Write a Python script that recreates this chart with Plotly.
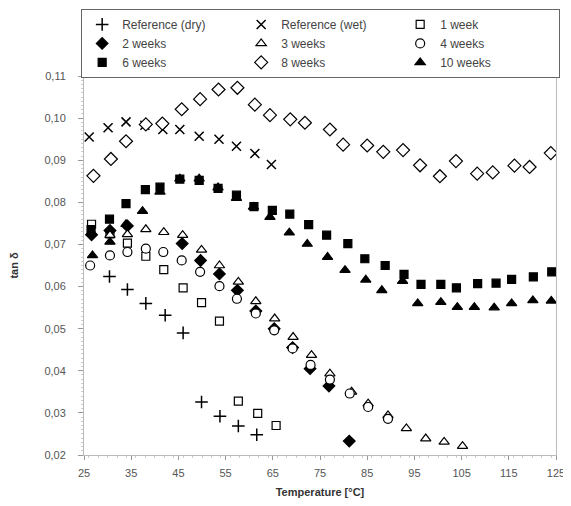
import plotly.graph_objects as go

# ---- data ----
dry_x = [30.4, 34.2, 38.1, 42.2, 46.0, 49.9, 53.8, 57.7, 61.6]
dry_y = [0.0624, 0.0593, 0.0560, 0.0532, 0.0490, 0.0326, 0.0292, 0.0269, 0.0248]

wet_x = [26.1, 30.1, 33.9, 37.9, 41.7, 45.3, 49.4, 53.6, 57.3, 61.2, 64.7]
wet_y = [0.0955, 0.0977, 0.0991, 0.0983, 0.0973, 0.0973, 0.0957, 0.0950, 0.0933, 0.0916, 0.0890]

w1_x = [26.6, 30.5, 34.2, 38.1, 41.9, 46.0, 49.9, 53.7, 57.7, 61.8, 65.7]
w1_y = [0.0748, 0.0725, 0.0703, 0.0672, 0.0640, 0.0597, 0.0562, 0.0518, 0.0328, 0.0299, 0.0270]

w2_x = [26.6, 30.5, 34.2, 45.8, 49.7, 53.7, 57.5, 61.4, 65.3, 69.2, 72.9, 76.9, 81.2]
w2_y = [0.0723, 0.0733, 0.0744, 0.0702, 0.0662, 0.0630, 0.0591, 0.0542, 0.0500, 0.0455, 0.0405, 0.0364, 0.0233]

w3_x = [30.5, 34.2, 38.1, 41.9, 45.9, 49.9, 53.7, 57.7, 61.4, 65.4, 69.3, 73.2, 77.1,
        81.7, 85.2, 89.4, 93.3, 97.4, 101.3, 105.2]
w3_y = [0.0722, 0.0724, 0.0736, 0.0729, 0.0722, 0.0687, 0.0650, 0.0611, 0.0565, 0.0524, 0.0480, 0.0437, 0.0393,
        0.0350, 0.0322, 0.0294, 0.0263, 0.0239, 0.0231, 0.0221]

w4_x = [26.3, 30.5, 34.2, 38.1, 41.8, 45.7, 49.6, 53.7, 57.4, 61.4, 65.3, 69.2, 73.0,
        77.1, 81.3, 85.2, 89.4]
w4_y = [0.0650, 0.0674, 0.0682, 0.0690, 0.0682, 0.0662, 0.0635, 0.0601, 0.0571, 0.0536, 0.0496, 0.0453, 0.0414,
        0.0379, 0.0346, 0.0314, 0.0286]

w6_x = [26.5, 30.4, 33.9, 38.0, 41.1, 45.3, 49.4, 53.4, 57.3, 61.0, 64.9, 68.6, 72.6,
        76.4, 80.9, 84.5, 88.8, 92.8, 96.4, 100.6, 103.9, 108.4, 112.3, 115.6, 120.2, 124.1]
w6_y = [0.0735, 0.0760, 0.0797, 0.0830, 0.0836, 0.0855, 0.0852, 0.0833, 0.0817, 0.0790, 0.0781, 0.0772, 0.0747,
        0.0722, 0.0702, 0.0666, 0.0650, 0.0629, 0.0605, 0.0605, 0.0597, 0.0607, 0.0608, 0.0617, 0.0623, 0.0635]

w8_x = [27.0, 30.7, 33.9, 38.1, 41.6, 45.7, 49.6, 53.5, 57.5, 61.2, 64.4, 68.7, 71.8,
        77.1, 79.9, 85.0, 88.4, 92.6, 96.2, 100.4, 103.8, 108.3, 111.6, 116.2, 119.4, 123.9]
w8_y = [0.0863, 0.0903, 0.0945, 0.0985, 0.0987, 0.1021, 0.1045, 0.1068, 0.1072, 0.1032, 0.1007, 0.0997, 0.0989,
        0.0973, 0.0937, 0.0935, 0.0920, 0.0924, 0.0888, 0.0862, 0.0898, 0.0868, 0.0871, 0.0887, 0.0884, 0.0917]

w10_x = [26.8, 30.5, 33.9, 37.4, 41.1, 45.3, 49.4, 53.4, 57.3, 60.9, 64.4, 68.5, 72.3,
         76.6, 80.3, 84.7, 88.1, 92.5, 95.7, 100.6, 104.1, 107.7, 111.9, 115.6, 120.1, 124.0]
w10_y = [0.0674, 0.0706, 0.0748, 0.0779, 0.0825, 0.0856, 0.0856, 0.0835, 0.0810, 0.0789, 0.0765, 0.0728, 0.0701,
         0.0670, 0.0639, 0.0616, 0.0591, 0.0613, 0.0560, 0.0563, 0.0551, 0.0551, 0.0550, 0.0560, 0.0567, 0.0566]

x_ticks = [25, 35, 45, 55, 65, 75, 85, 95, 105, 115, 125]
y_ticks = [0.02, 0.03, 0.04, 0.05, 0.06, 0.07, 0.08, 0.09, 0.10, 0.11]

series = [
    ("Reference (dry)", dry_x, dry_y, "cross-thin", "black", 9),
    ("Reference (wet)", wet_x, wet_y, "x-thin", "black", 9),
    ("1 week", w1_x, w1_y, "square", "white", 8),
    ("2 weeks", w2_x, w2_y, "diamond", "black", 9),
    ("3 weeks", w3_x, w3_y, "triangle-up", "white", 9),
    ("4 weeks", w4_x, w4_y, "circle", "white", 9),
    ("6 weeks", w6_x, w6_y, "square", "black", 8),
    ("8 weeks", w8_x, w8_y, "diamond", "white", 10),
    ("10 weeks", w10_x, w10_y, "triangle-up", "black", 9),
]

fig = go.Figure()
for name, xs, ys, sym, fill, size in series:
    lw = 1.5 if "thin" in sym else 1.2
    fig.add_trace(go.Scatter(
        x=xs, y=ys, mode="markers", name=name,
        marker=dict(symbol=sym, size=size, color=fill,
                    line=dict(color="black", width=lw)),
    ))

fig.update_layout(
    width=563, height=490,
    margin=dict(l=76, r=15, t=68, b=43, autoexpand=False),
    paper_bgcolor="white", plot_bgcolor="white",
    separators=",.",
    font=dict(family="Liberation Sans, Arial, sans-serif", size=11, color="#333"),
    showlegend=True,
    legend=dict(
        orientation="h", x=-0.006, xanchor="left", y=1.177, yanchor="top",
        entrywidth=114, entrywidthmode="pixels",
        bordercolor="#666", borderwidth=1, bgcolor="white",
        font=dict(size=12, color="#444"),
        itemsizing="trace", tracegroupgap=0,
    ),
    xaxis=dict(
        range=[25, 125], tickvals=x_ticks, ticks="outside", ticklen=4,
        tickcolor="#999", showgrid=False, zeroline=False, automargin=False,
        showline=True, linecolor="#bbb", mirror=True,
        minor=dict(dtick=2, ticks="outside", ticklen=2, tickcolor="#ccc"),
        title=dict(text="<b>Temperature [°C]</b>", font=dict(size=11), standoff=17),
        tickfont=dict(size=11, color="#555"), ticklabelstandoff=4,
    ),
    yaxis=dict(
        range=[0.02, 0.11], tickvals=y_ticks, tickformat=".2f", ticks="outside", ticklen=5,
        tickcolor="#999", showgrid=False, zeroline=False, automargin=False,
        showline=True, linecolor="#bbb", mirror=True,
        minor=dict(dtick=0.001, ticks="outside", ticklen=2, tickcolor="#ccc"),
        title=dict(text="<b>tan δ</b>", font=dict(size=11), standoff=24),
        tickfont=dict(size=11, color="#555"), ticklabelstandoff=10,
    ),
)

fig.write_html("out.html")
